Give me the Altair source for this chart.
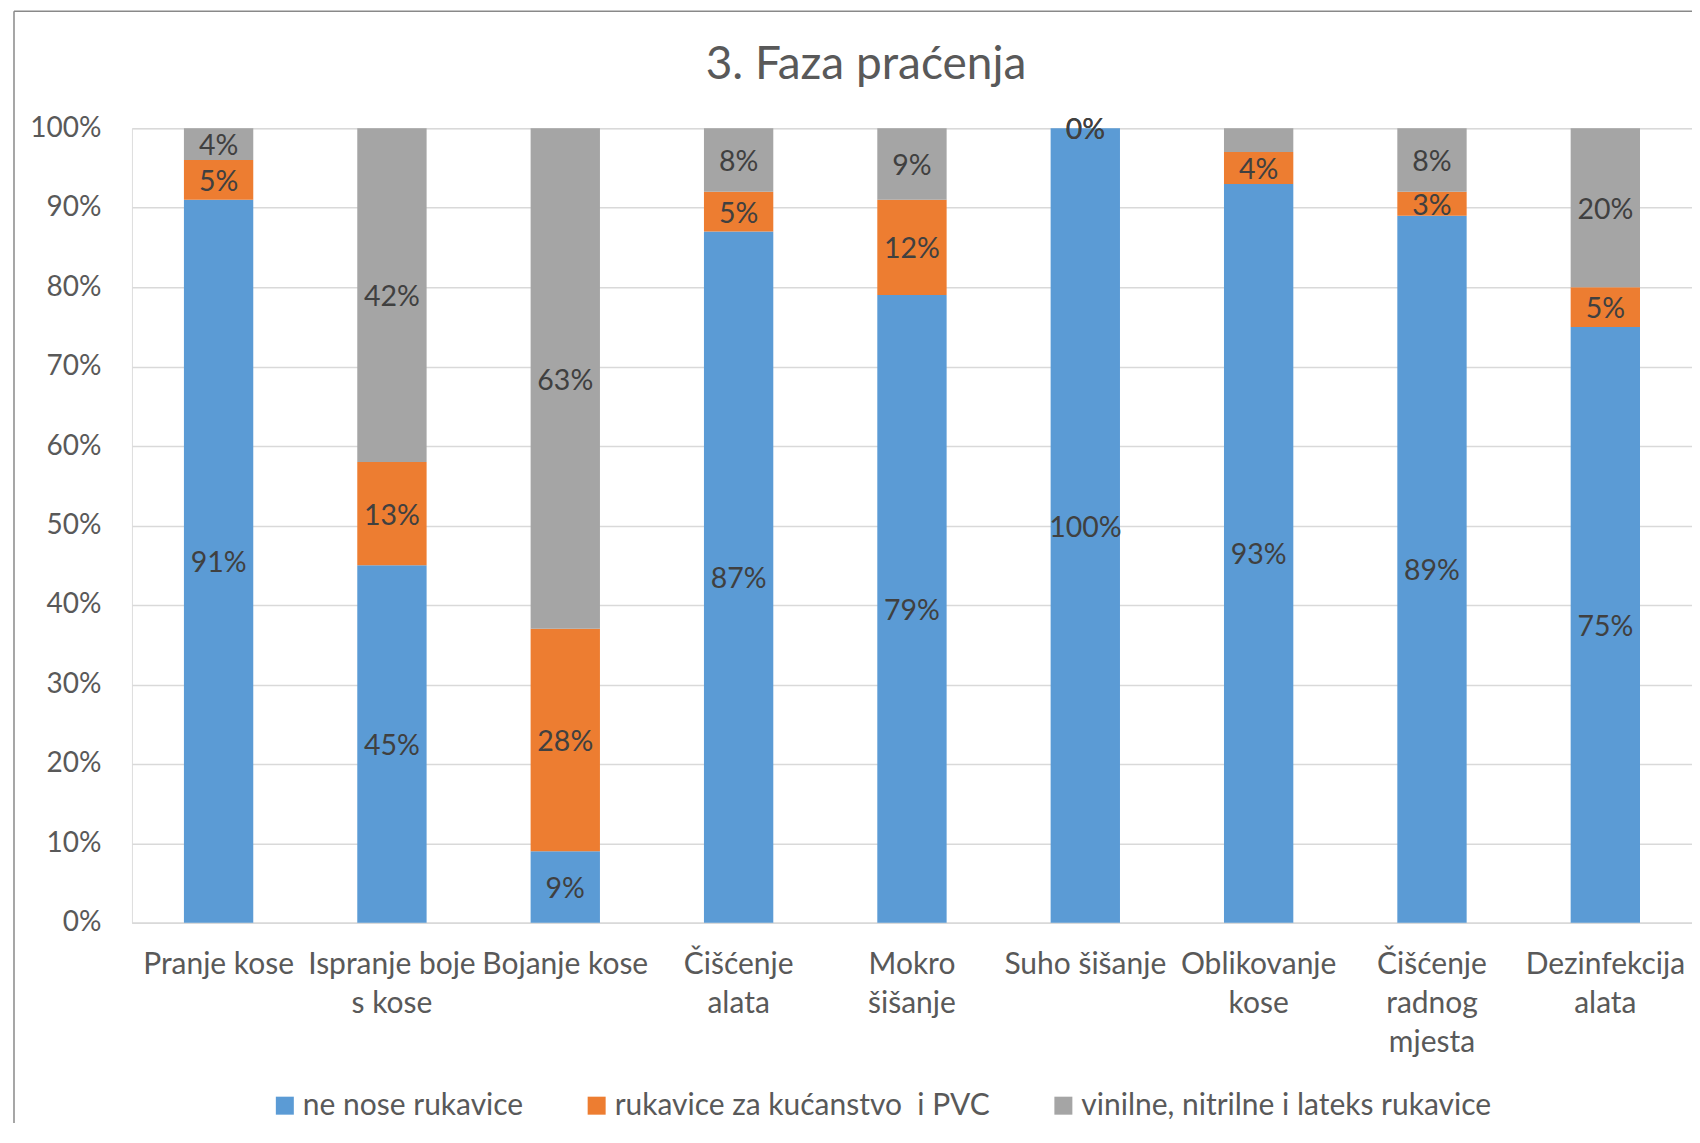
import altair as alt
import pandas as pd

# ---- data ----
cat_lines = [["Pranje kose"], ["Ispranje boje", "s kose"], ["Bojanje kose"],
             ["Čišćenje", "alata"], ["Mokro", "šišanje"], ["Suho šišanje"],
             ["Oblikovanje", "kose"], ["Čišćenje", "radnog", "mjesta"],
             ["Dezinfekcija", "alata"]]
categories = [" ".join(l) for l in cat_lines]

series = ["ne nose rukavice", "rukavice za kućanstvo  i PVC",
          "vinilne, nitrilne i lateks rukavice"]
colors = ["#5B9BD5", "#ED7D31", "#A5A5A5"]

ne_nose = [91, 45, 9, 87, 79, 100, 93, 89, 75]
kucanstvo_pvc = [5, 13, 28, 5, 12, 0, 4, 3, 5]
vinilne = [4, 42, 63, 8, 9, 0, 3, 8, 20]
# data labels that are not shown in the original (category, series index)
hidden_labels = [("Oblikovanje kose", 2)]

rows = []
for si, vals in enumerate([ne_nose, kucanstvo_pvc, vinilne]):
    for c, v in zip(categories, vals):
        lab = "" if (c, si) in hidden_labels else f"{v}%"
        rows.append({"category": c, "series": series[si], "idx": si,
                     "value": v, "label": lab})
df = pd.DataFrame(rows)

FONT = "Lato"
TXT = "#595959"

# plot area geometry (page coords): left 132, top 128, right 1693, bottom 923
W, H = 1561, 795

names_js = "[" + ",".join("'" + c + "'" for c in categories) + "]"
lines_js = "[" + ",".join("[" + ",".join("'" + s + "'" for s in l) + "]" for l in cat_lines) + "]"
label_expr = f"{lines_js}[indexof({names_js}, datum.value)]"

base = alt.Chart(df).transform_stack(
    stack="value", groupby=["category"], as_=["y0", "y1"],
    sort=[alt.SortField("idx", order="ascending")]
).transform_calculate(mid="(datum.y0 + datum.y1) / 2")

xenc = alt.X("category:N", sort=categories, title=None,
             scale=alt.Scale(paddingInner=0.6, paddingOuter=0.3),
             axis=alt.Axis(labelExpr=label_expr, labelAngle=0, labelFont=FONT,
                           labelFontSize=30, labelColor=TXT, labelPadding=27,
                           labelLineHeight=39, ticks=False, domainColor="#D9D9D9",
                           domainWidth=1.5, grid=False, labelBaseline="top",
                           labelLimit=0))

bars = base.mark_bar(stroke=None).encode(
    x=xenc,
    y=alt.Y("y0:Q", title=None, scale=alt.Scale(domain=[0, 100], nice=False),
            axis=alt.Axis(values=list(range(0, 101, 10)), labelExpr="datum.value + '%'",
                          labelFont=FONT, labelFontSize=28, labelColor=TXT,
                          labelPadding=31, ticks=False, domain=False,
                          gridColor="#D9D9D9", gridWidth=1.5)),
    y2="y1:Q",
    color=alt.Color("series:N", sort=series,
                    scale=alt.Scale(domain=series, range=colors),
                    legend=alt.Legend(title=None, orient="none", legendX=138, legendY=963,
                                      direction="horizontal", columns=3,
                                      symbolType="square", symbolSize=324,
                                      symbolStrokeWidth=0, labelFont=FONT,
                                      labelFontSize=30, labelColor=TXT, labelLimit=0,
                                      labelExpr="replace(datum.label, '  ', '\u00a0 ')",
                                      labelOffset=3, columnPadding=58, padding=0)),
    order=alt.Order("idx:Q"),
)

labels = base.mark_text(font=FONT, fontSize=28.5, color="#404040",
                        baseline="middle", align="center", dy=2).encode(
    x=alt.X("category:N", sort=categories),
    y=alt.Y("mid:Q"),
    text="label:N",
)

frame_df = pd.DataFrame({"k": [0]})
frame_v = alt.Chart(frame_df).mark_rule(color="#898989", strokeWidth=1.5).encode(
    x=alt.value(-118), y=alt.value(-117), y2=alt.value(1100))
frame_h = alt.Chart(frame_df).mark_rule(color="#898989", strokeWidth=1.5).encode(
    x=alt.value(-118), x2=alt.value(1700), y=alt.value(-117))

chart = alt.layer(frame_v, frame_h, bars, labels).properties(
    width=W, height=H,
    title=alt.TitleParams(text="3. Faza praćenja", font=FONT, fontSize=46,
                          fontWeight="normal", color=TXT, anchor="middle",
                          frame="group", baseline="alphabetic", offset=-114, dx=-46),
    autosize=alt.AutoSizeParams(type="none"),
    padding={"left": 124, "top": 120, "right": 0, "bottom": 200},
).configure_view(stroke=None).configure(background="white")

chart.save("out.html", embed_options={"renderer": "svg", "actions": False})
